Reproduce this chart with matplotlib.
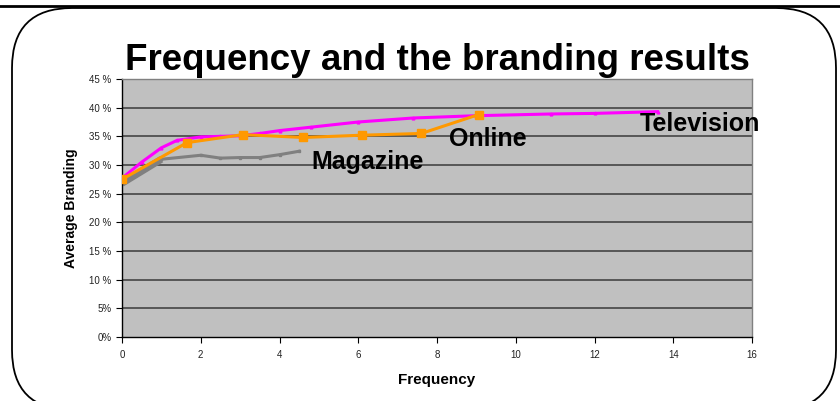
import matplotlib.pyplot as plt
from matplotlib.patches import FancyBboxPatch
from matplotlib.lines import Line2D

plt.rcParams['font.family'] = ['Liberation Sans', 'DejaVu Sans']

# average branding (%) by frequency of exposure
tv_freq = [0, 0.5, 1.0, 1.4, 2.0, 2.5, 3.0, 3.5, 4.0, 4.8, 6.0, 7.4, 9.0, 10.9, 12.0, 13.6]
tv_brand = [27.7, 30.5, 33.0, 34.3, 34.9, 35.0, 35.1, 35.5, 36.0, 36.6, 37.5, 38.2, 38.6, 38.9, 39.0, 39.3]

online_freq = [0, 1.65, 3.07, 4.6, 6.1, 7.6, 9.06]
online_brand = [27.5, 33.9, 35.3, 34.8, 35.2, 35.5, 38.8]

mag_freq = [0, 1.0, 2.0, 2.5, 3.0, 3.5, 4.0, 4.5]
mag_brand = [26.8, 31.0, 31.7, 31.2, 31.3, 31.3, 31.8, 32.4]

yticks = [0, 5, 10, 15, 20, 25, 30, 35, 40, 45]
ytick_labels = ['0%', '5%', '10 %', '15 %', '20 %', '25 %', '30 %', '35 %', '40 %', '45 %']
xticks = [0, 2, 4, 6, 8, 10, 12, 14, 16]

fig = plt.figure(figsize=(8.4, 4.01), dpi=100)

# rounded frame and rule across the top
frame = FancyBboxPatch((0.12, -0.09), 8.24, 4.02,
                       boxstyle='round,pad=0,rounding_size=0.6',
                       transform=fig.dpi_scale_trans, fill=False,
                       edgecolor='black', linewidth=1.3)
fig.patches.append(frame)
fig.lines.append(Line2D([0, 1], [1 - 6 / 401, 1 - 6 / 401], transform=fig.transFigure,
                        color='black', linewidth=2))

ax = fig.add_axes([122 / 840, 64 / 401, 630 / 840, 258 / 401])
ax.set_facecolor('#C0C0C0')

for y in yticks[1:]:
    ax.axhline(y, color='#3a3a3a', linewidth=1.1, zorder=1)

ax.plot(mag_freq[:2], mag_brand[:2], color='#808080', linewidth=5, solid_capstyle='butt', zorder=2)
ax.plot(mag_freq, mag_brand, color='#808080', linewidth=2.2, marker='s', markersize=2, zorder=2)
ax.plot(tv_freq, tv_brand, color='#FF00FF', linewidth=2.2, marker='^', markersize=2, zorder=3)
ax.plot(online_freq, online_brand, color='#FF9900', linewidth=2.2, marker='s', markersize=6, zorder=4)

lbl = dict(fontsize=18, fontweight='bold', va='center', ha='left', clip_on=False, zorder=5)
ax.text(4.82, 30.6, 'Magazine', **lbl)
ax.text(8.3, 34.5, 'Online', **lbl)
ax.text(13.15, 37.2, 'Television', **lbl)

ax.set_xlim(0, 16)
ax.set_ylim(0, 45)
ax.set_xticks(xticks)
ax.set_yticks(yticks)
ax.set_yticklabels(ytick_labels)
ax.tick_params(labelsize=7, labelcolor='#222222', length=4, width=0.8, direction='out')
ax.tick_params(axis='x', pad=5)

for side in ['left', 'bottom']:
    ax.spines[side].set_color('black')
    ax.spines[side].set_linewidth(1)
for side in ['right', 'top']:
    ax.spines[side].set_color('#808080')
    ax.spines[side].set_linewidth(1)

ax.set_xlabel('Frequency', fontsize=11, fontweight='bold', labelpad=10)
ax.set_ylabel('Average Branding', fontsize=10, fontweight='bold', labelpad=8)

fig.text(437 / 840, 1 - 70 / 401, 'Frequency and the branding results',
         fontsize=26.5, fontweight='bold', ha='center', va='baseline')

fig.savefig('out.png', dpi=100)
